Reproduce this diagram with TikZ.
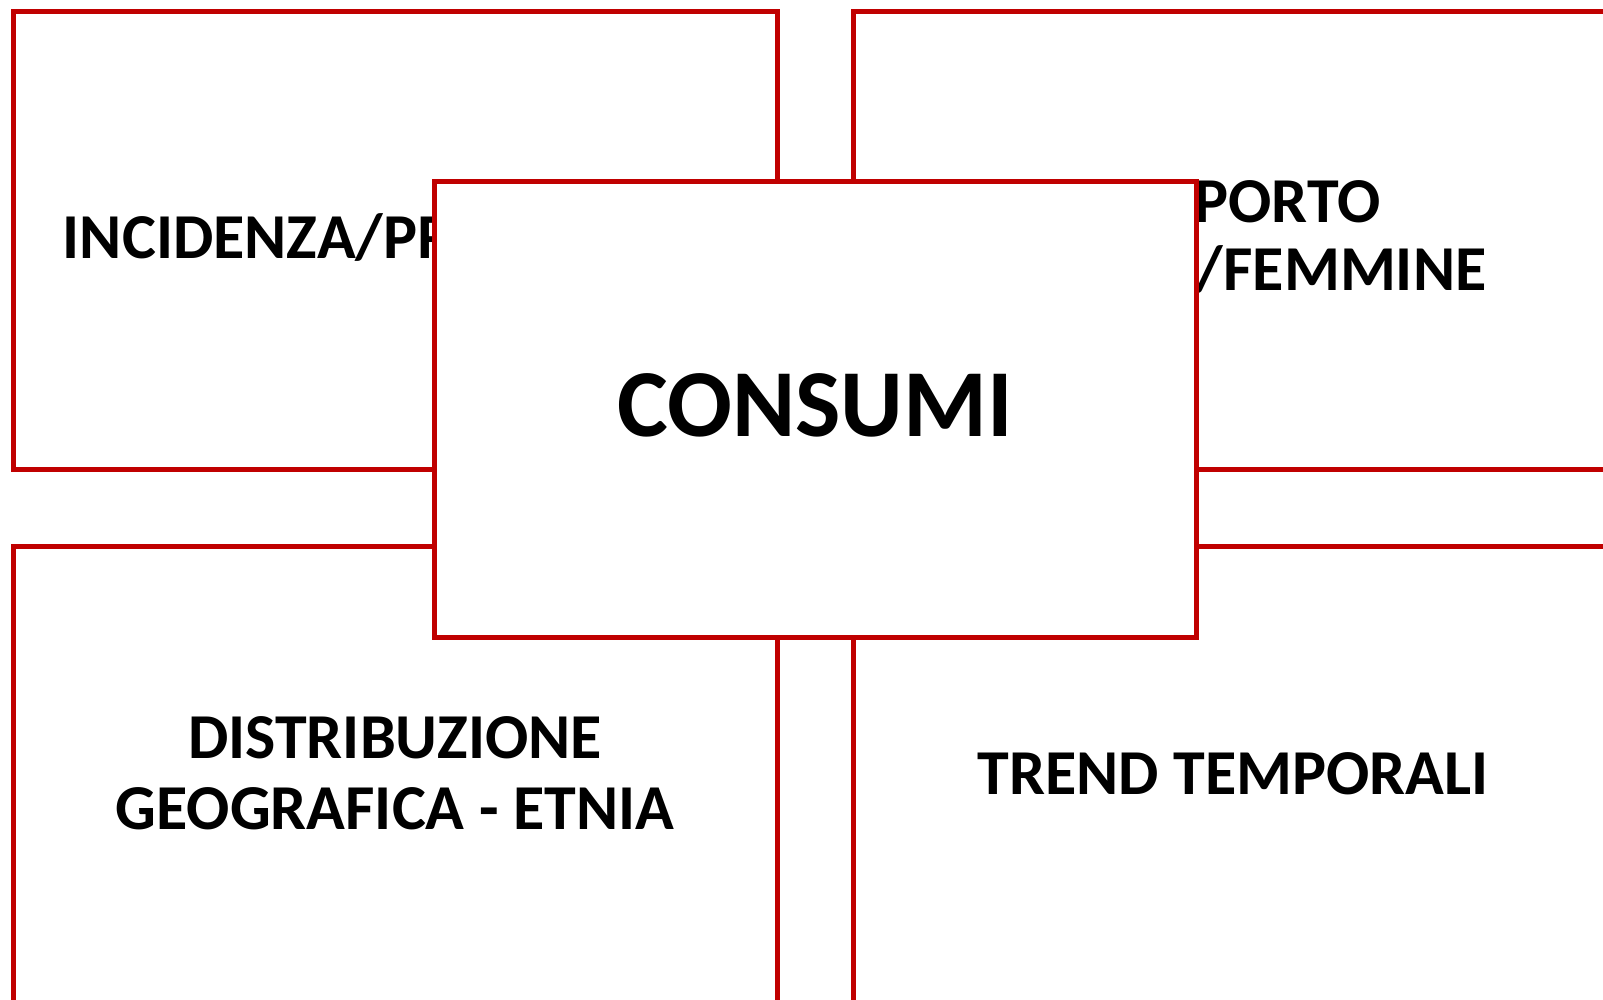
\documentclass[tikz,border=0pt]{standalone}
\usepackage{fontspec}
\setmainfont{Carlito}
\definecolor{boxred}{HTML}{C00000}
\tikzset{
  panel/.style={draw=boxred, line width=5pt, fill=white, rectangle, inner sep=0pt, outer sep=0pt},
  sidebox/.style={panel, minimum width=764pt, minimum height=457.5pt},
  centerbox/.style={panel, minimum width=762pt, minimum height=456pt},
  sidetext/.style={anchor=base, inner sep=0pt, font=\bfseries\fontsize{64}{68}\selectfont},
  bigtext/.style={anchor=base, inner sep=0pt, font=\bfseries\fontsize{96}{100}\selectfont}
}
\begin{document}
\begin{tikzpicture}[x=1pt, y=-1pt]
\clip (0,0) rectangle (1603,999);
\fill[white] (0,0) rectangle (1603,999);
% four side panels
\node[sidebox] (tl) at (395,240.25) {};
\node[sidebox] (tr) at (1235.6,240.25) {};
\node[sidebox] (bl) at (395,774.75) {};
\node[sidebox] (br) at (1235.6,774.75) {};
% their texts
\node[sidetext] (tlt) at (395,258) {INCIDENZA/PREVALENZA};
\node[sidetext] (trt1) at (1233,222) {RAPPORTO};
\node[sidetext] (trt2) at (1233,290) {MASCHI/FEMMINE};
\node[sidetext] (blt1) at (395,758.5) {DISTRIBUZIONE};
\node[sidetext] (blt2) at (395,829) {GEOGRAFICA - ETNIA};
\node[sidetext] (brt) at (1233,794) {TREND TEMPORALI};
% central panel on top
\node[centerbox] (c) at (815,409) {};
\node[bigtext] (ct) at (815,436) {CONSUMI};
\end{tikzpicture}
\end{document}
